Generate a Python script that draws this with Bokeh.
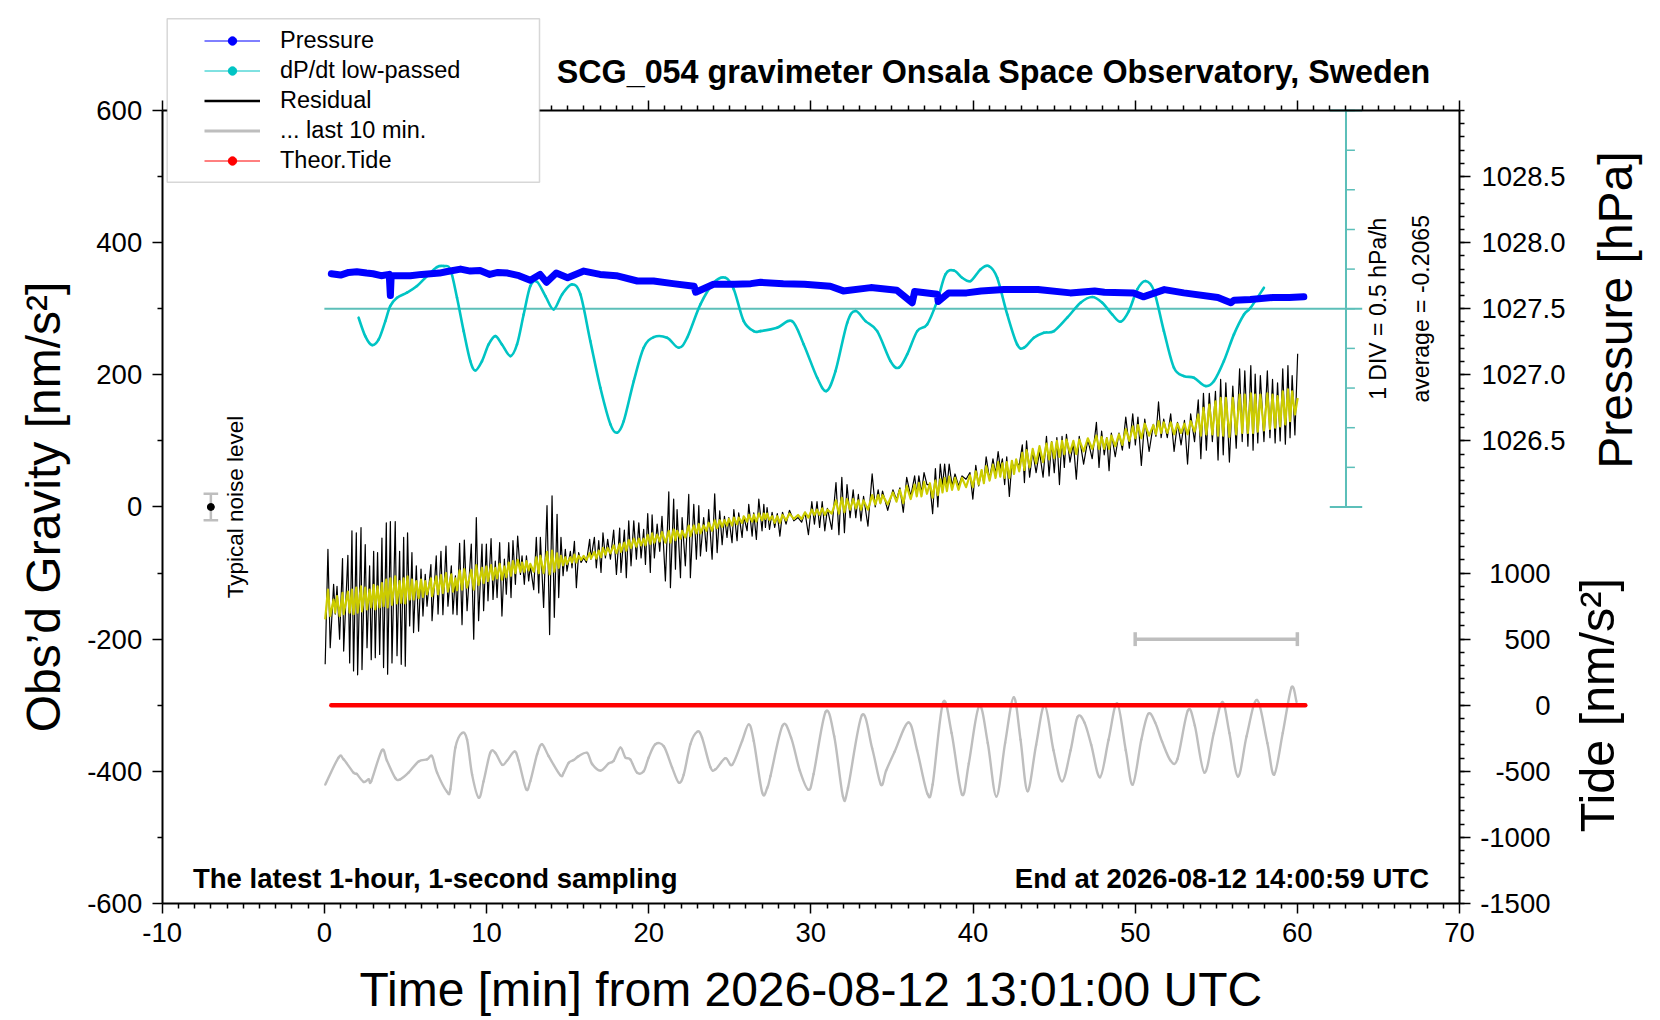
import math
from bokeh.plotting import figure
from bokeh.models import (Range1d, LinearAxis, FixedTicker, Label, LabelSet, ColumnDataSource,
                          BoxAnnotation, Legend, LegendItem, CustomJSTickFormatter)
from bokeh.embed import file_html
from bokeh.resources import INLINE
from bokeh.core.properties import value

FONT = "Liberation Sans"

# ---------------- data ----------------
time_ticks = [-10, 0, 10, 20, 30, 40, 50, 60, 70]
grav_ticks = [-600, -400, -200, 0, 200, 400, 600]
pressure_ticks = [1026.5, 1027.0, 1027.5, 1028.0, 1028.5]
tide_ticks = [-1500, -1000, -500, 0, 500, 1000]

# Residual gravity [nm/s^2] (extremes)
res_t = [0.05,0.22,0.36,0.57,0.67,0.78,0.94,1.12,1.19,1.45,
         1.56,1.70,1.80,1.97,2.05,2.26,2.32,2.52,2.63,2.79,
         2.89,3.04,3.14,3.28,3.41,3.55,3.65,3.82,3.90,4.07,
         4.17,4.37,4.48,4.64,4.74,4.89,4.99,5.13,5.26,5.40,
         5.50,5.67,5.81,5.96,6.08,6.22,6.33,6.57,6.64,6.90,
         7.01,7.19,7.31,7.50,7.62,7.83,7.93,8.08,8.18,8.34,
         8.49,8.63,8.80,9.06,9.21,9.37,9.51,9.72,9.82,9.99,
         10.09,10.28,10.40,10.54,10.65,10.81,10.95,11.10,11.22,11.37,
         11.51,11.63,11.78,11.92,12.09,12.19,12.33,12.46,12.60,12.70,
         12.91,13.07,13.22,13.32,13.52,13.73,13.89,14.04,14.18,14.35,
         14.45,14.59,14.72,14.86,14.96,15.17,15.27,15.42,15.54,15.68,
         15.83,15.99,16.16,16.36,16.44,16.65,16.77,16.92,17.06,17.18,
         17.33,17.47,17.64,17.84,18.01,18.21,18.29,18.50,18.62,18.77,
         18.91,19.08,19.24,19.39,19.53,19.69,19.80,19.94,20.10,20.21,
         20.35,20.52,20.68,20.82,21.03,21.24,21.34,21.54,21.65,21.75,
         21.96,22.06,22.26,22.47,22.57,22.78,22.94,23.09,23.19,23.39,
         23.56,23.70,23.91,24.07,24.22,24.38,24.53,24.67,24.83,24.94,
         25.14,25.25,25.45,25.55,25.76,25.86,26.07,26.17,26.38,26.48,
         26.64,26.79,26.99,27.10,27.20,27.30,27.45,
         27.61,27.77,27.93,28.09,28.25,28.47,28.68,28.95,29.21,29.43,
         29.64,29.85,30.06,30.22,30.38,30.54,30.70,30.86,31.02,31.29,
         31.55,31.73,31.91,32.07,32.23,32.42,32.61,32.77,32.93,33.09,
         33.25,33.52,33.78,33.97,34.15,34.29,34.42,34.74,35.06,35.28,
         35.49,35.70,35.91,36.16,36.40,36.53,36.66,36.82,36.98,37.16,
         37.34,37.51,37.68,37.83,37.98,38.12,38.25,38.39,38.53,38.71,
         38.89,39.11,39.32,39.57,39.81,39.99,40.17,40.35,40.53,40.67,
         40.81,41.02,41.23,41.39,41.55,41.68,41.81,41.95,42.08,42.24,
         42.40,42.53,42.66,42.85,43.04,43.17,43.30,43.49,43.68,43.89,
         44.10,44.32,44.53,44.69,44.85,45.01,45.17,45.33,45.49,45.63,
         45.76,45.98,46.19,46.37,46.55,46.82,47.08,47.35,47.61,47.77,
         47.93,48.09,48.25,48.39,48.53,48.77,49.00,49.21,49.42,49.64,
         49.85,50.01,50.17,50.38,50.59,50.86,51.12,51.28,51.44,51.60,
         51.76,51.98,52.19,52.40,52.61,52.83,53.04,53.23,53.42,53.66,
         53.89,54.05,54.21,54.39,54.57,54.76,54.95,55.11,55.27,55.43,
         55.59,55.81,56.02,56.23,56.44,56.60,56.76,56.95,57.13,57.27,
         57.40,57.56,57.72,57.94,58.15,58.31,58.47,58.63,58.78,58.94,
         59.10,59.26,59.42,59.55,59.68,59.85,60.02]
res_v = [-238,-64,-213,-117,-162,-120,-200,-78,-218,-73,
         -236,-36,-248,-39,-254,-31,-246,-57,-213,-89,
         -231,-67,-228,-69,-223,-47,-243,-24,-253,-22,
         -236,-22,-225,-67,-238,-46,-241,-39,-180,-69,
         -190,-89,-188,-94,-165,-102,-150,-87,-172,-74,
         -162,-67,-163,-59,-150,-89,-162,-104,-163,-55,
         -178,-50,-157,-56,-200,-16,-172,-56,-157,-56,
         -142,-48,-140,-82,-137,-54,-165,-79,-132,-54,
         -137,-51,-117,-44,-102,-74,-117,-74,-112,-89,
         -125,-46,-130,-46,-152,2,-193,17,-167,-11,
         -137,-46,-104,-64,-97,-67,-92,-52,-122,-69,
         -84,-77,-84,-49,-79,-46,-92,-51,-99,-39,
         -77,-49,-79,-35,-102,-32,-99,-35,-107,-21,
         -89,-21,-79,-24,-77,-34,-87,-10,-99,-12,
         -77,-26,-67,-14,-112,23,-122,12,-94,-4,
         -107,-16,-89,19,-107,4,-79,2,-74,-16,
         -67,-4,-79,20,-69,-6,-57,-14,-46,-16,
         -54,-4,-51,-9,-46,-14,-36,4,-44,-9,
         -49,12,-36,4,-31,-1,-34,
         -8,-31,-10,-44,-8,-26,-5,-21,-16,-23,
         -8,-42,8,-26,8,-31,8,-36,-2,-34,
         37,-42,45,-39,34,-16,26,-16,19,-21,
         16,-29,50,0,26,5,24,-5,26,11,
         29,-8,45,16,47,19,47,21,52,34,
         34,-10,58,0,65,32,65,29,65,32,
         50,32,47,42,52,12,63,32,55,37,
         76,42,73,50,84,58,73,34,76,16,
         68,58,68,63,94,37,100,45,84,52,
         84,45,107,47,99,52,105,34,107,60,
         110,68,97,42,107,65,102,73,128,60,
         115,79,105,55,112,76,112,86,136,89,
         141,94,136,63,133,84,125,107,159,105,
         133,105,141,84,128,94,131,65,141,99,
         162,73,172,86,172,99,175,71,193,79,
         188,68,183,89,209,99,206,92,214,86,
         201,97,199,99,206,105,193,97,188,100,
         209,95,214,105,199,109,232]
# Smoothed residual (yellow trace), same time stamps
smooth_v = [-170,-125,-165,-140,-160,-135,-165,-130,-162,-128,
            -160,-125,-162,-122,-160,-120,-158,-122,-155,-125,
            -152,-118,-155,-120,-152,-115,-150,-110,-152,-108,
            -148,-105,-146,-112,-145,-108,-146,-105,-140,-110,
            -140,-112,-138,-110,-136,-112,-132,-108,-135,-105,
            -132,-103,-130,-100,-128,-102,-128,-108,-126,-96,
            -125,-94,-122,-95,-125,-88,-118,-92,-115,-90,
            -112,-88,-110,-92,-108,-86,-110,-90,-106,-84,
            -104,-82,-100,-80,-98,-84,-98,-82,-96,-86,
            -98,-76,-100,-74,-100,-68,-102,-66,-98,-70,
            -92,-74,-88,-76,-86,-76,-84,-72,-84,-74,
            -80,-74,-80,-70,-78,-68,-78,-66,-76,-62,
            -72,-62,-70,-58,-70,-56,-68,-54,-66,-50,
            -62,-48,-60,-48,-58,-48,-58,-42,-56,-40,
            -54,-42,-52,-38,-54,-36,-54,-34,-50,-36,
            -48,-36,-46,-28,-44,-28,-40,-26,-40,-28,
            -36,-24,-36,-20,-32,-20,-30,-20,-28,-18,
            -28,-16,-26,-16,-24,-14,-22,-12,-22,-12,
            -22,-10,-20,-10,-18,-10,-20,
            -14,-24,-14,-24,-12,-20,-10,-18,-12,-18,
            -8,-16,-4,-12,-4,-12,-2,-12,-4,-10,
            10,-10,14,-8,12,-4,12,-2,10,-4,
            10,-4,18,4,18,6,18,4,22,8,
            26,6,32,12,34,16,36,16,38,20,
            36,14,40,18,42,22,44,24,46,26,
            44,26,44,30,48,30,54,34,56,36,
            62,40,64,44,68,46,66,44,68,44,
            70,50,72,54,82,56,86,60,88,66,
            92,68,96,72,98,74,100,76,100,80,
            102,82,100,80,102,84,104,88,108,88,
            106,88,104,88,108,92,110,94,118,100,
            122,104,124,104,126,108,124,110,130,112,
            128,112,128,110,126,112,126,110,130,114,
            140,108,150,110,155,110,160,108,165,108,
            165,106,165,110,170,112,170,112,172,112,
            170,114,170,116,172,118,170,120,168,122,
            175,125,178,130,175,140,165]

# "... last 10 min." trace as drawn [nm/s^2]
last10_t = [0.06,0.88,1.19,1.80,2.00,2.42,2.73,2.89,3.55,3.86,
            4.37,4.68,5.19,5.81,6.33,6.64,6.95,7.56,7.77,8.08,
            8.49,8.80,9.11,9.52,9.82,10.23,10.54,10.96,11.26,11.73,
            11.98,12.44,12.70,13.12,13.42,13.83,14.55,14.76,15.07,15.37,
            15.68,16.20,16.51,17.02,17.53,17.84,18.25,18.56,18.87,19.28,
            19.69,20.00,20.41,20.93,21.44,21.85,22.16,22.57,22.99,23.29,
            23.81,24.12,24.73,25.15,25.76,26.17,26.48,27.00,27.31,
            27.51,28.25,28.78,29.32,29.85,30.17,30.91,31.44,31.98,32.29,
            33.15,33.78,34.32,34.64,35.17,36.02,36.55,37.19,37.51,38.15,
            38.68,39.32,39.74,40.38,40.91,41.44,41.98,42.51,42.93,43.36,
            43.89,44.42,44.96,45.49,46.02,46.44,46.87,47.29,47.83,48.36,
            48.89,49.42,49.85,50.38,50.81,51.23,51.66,52.19,52.61,53.25,
            53.68,54.27,54.85,55.38,55.81,56.34,56.87,57.51,58.15,58.57,
            59.10,59.64,59.95]
last10_v = [-420,-379,-382,-402,-404,-416,-412,-415,-368,-384,
            -410,-412,-402,-385,-382,-377,-402,-431,-427,-364,
            -342,-352,-405,-440,-415,-372,-372,-390,-384,-370,
            -384,-427,-415,-374,-359,-377,-406,-402,-387,-383,
            -377,-372,-389,-399,-388,-384,-364,-379,-382,-402,
            -400,-379,-359,-362,-394,-417,-405,-359,-340,-349,
            -394,-397,-380,-390,-354,-329,-354,-432,-425,
            -407,-331,-349,-399,-428,-404,-310,-347,-438,-425,
            -315,-365,-420,-399,-370,-326,-368,-434,-420,-296,
            -342,-435,-388,-301,-357,-438,-357,-288,-352,-430,
            -360,-300,-368,-415,-368,-318,-326,-360,-409,-352,
            -297,-368,-420,-352,-313,-326,-355,-384,-381,-308,
            -331,-402,-342,-295,-342,-408,-347,-292,-357,-405,
            -342,-273,-295]

# Air pressure [hPa]
pres_t = [0.43,1.0,1.5,2.0,2.6,3.0,3.5,4.0,4.07,4.12,
          4.5,5.3,6.0,7.1,7.5,8.4,9.0,9.6,10.2,10.7,
          11.3,12.0,12.7,13.3,13.7,14.3,15.0,16.0,17.0,18.0,
          19.3,20.3,21.5,22.8,22.9,24.0,25.3,26.3,26.9,28.3,
          29.6,31.2,32.0,33.7,35.3,36.25,36.4,37.8,37.85,38.5,
          39.6,40.5,41.9,44.0,46.0,47.5,48.1,49.9,50.5,51.8,
          53.0,55.1,55.9,56.1,57.1,58.5,59.5,60.4]
pres_v = [1027.765,1027.755,1027.775,1027.78,1027.77,1027.765,1027.75,1027.76,1027.60,1027.75,
          1027.75,1027.75,1027.76,1027.77,1027.78,1027.80,1027.785,1027.79,1027.76,1027.775,
          1027.77,1027.75,1027.715,1027.76,1027.70,1027.77,1027.735,1027.785,1027.76,1027.75,
          1027.71,1027.71,1027.69,1027.67,1027.625,1027.685,1027.685,1027.69,1027.70,1027.69,
          1027.685,1027.67,1027.635,1027.66,1027.64,1027.545,1027.63,1027.61,1027.555,1027.62,
          1027.62,1027.635,1027.645,1027.645,1027.62,1027.635,1027.625,1027.62,1027.59,1027.645,
          1027.62,1027.585,1027.545,1027.565,1027.57,1027.585,1027.585,1027.59]

# dP/dt low-passed [hPa/h]
dpdt_t = [2.11,2.52,2.93,3.35,3.76,4.06,4.48,5.09,5.71,6.33,
          6.94,7.36,7.77,8.18,8.59,9.00,9.31,9.72,10.13,10.54,
          10.95,11.47,11.88,12.29,12.70,13.11,13.63,14.14,14.66,15.27,
          15.79,16.40,17.02,17.64,18.05,18.46,19.08,19.69,20.31,21.13,
          21.85,22.37,23.19,24.01,24.73,25.25,25.86,26.48,26.89,27.92,
          28.84,29.56,30.39,30.96,31.52,32.24,32.75,33.37,34.09,34.91,
          35.42,35.94,36.56,37.17,37.79,38.30,38.82,39.33,39.85,40.46,
          40.98,41.49,42.11,42.72,43.14,43.75,44.37,44.99,45.81,46.63,
          47.35,47.97,48.58,49.10,49.61,50.13,50.64,51.16,51.77,52.39,
          53.01,53.62,54.34,54.86,55.47,56.09,56.71,57.12,57.94]
dpdt_v = [-0.113,-0.345,-0.458,-0.387,-0.156,0.033,0.138,0.202,0.286,0.412,
          0.525,0.538,0.496,0.138,-0.282,-0.660,-0.778,-0.660,-0.450,-0.345,
          -0.450,-0.597,-0.450,-0.072,0.286,0.340,0.160,-0.008,0.181,0.307,
          0.181,-0.408,-0.996,-1.458,-1.563,-1.417,-0.912,-0.492,-0.358,-0.366,
          -0.492,-0.366,0.055,0.328,0.391,0.244,-0.156,-0.282,-0.282,-0.239,
          -0.156,-0.450,-0.870,-1.038,-0.786,-0.177,-0.029,-0.156,-0.282,-0.660,
          -0.744,-0.576,-0.282,-0.198,0.097,0.433,0.483,0.391,0.349,0.496,
          0.538,0.391,-0.072,-0.450,-0.492,-0.366,-0.303,-0.282,-0.113,0.076,
          0.148,0.076,-0.072,-0.164,-0.029,0.244,0.349,0.223,-0.282,-0.744,
          -0.849,-0.870,-0.975,-0.912,-0.660,-0.323,-0.072,0.013,0.265]
dpdt_div = 0.5                      # hPa/h per division
dpdt_div_ticks = [-2.5, -2.0, -1.5, -1.0, -0.5, 0.0, 0.5, 1.0, 1.5, 2.0, 2.5]

# Theoretical tide [nm/s^2]
tide_t = [0.43, 60.49]
tide_v = [0, 0]

# typical noise level marker and last-10-min span
noise_x = -7
noise_level = 20
last10_span = [50, 60]
last10_level = -200

# ---------------- figure ----------------
# The frame fills the whole canvas; axes are pinned at the plot box edges.
X0, X1 = -10, 70
Y0, Y1 = -600, 600
XL, XR = -19.972, 82.148          # canvas edges in minutes
YB, YT = -771.0, 766.46           # canvas edges in nm/s^2
p = figure(width=1656, height=1016, min_border=0,
           x_range=Range1d(XL, XR), y_range=Range1d(YB, YT),
           x_axis_location=None, y_axis_location=None,
           output_backend="svg", toolbar_location=None, tools="")
p.grid.visible = False
p.outline_line_color = None
p.background_fill_color = "white"
p.border_fill_color = "white"
p.extra_y_ranges = {"pressure": Range1d(1026.0 + YB / 200.0, 1026.0 + YT / 200.0),
                    "tide": Range1d((YB + 300.0) * 5.0, (YT + 300.0) * 5.0),
                    "dpdt": Range1d((YB - 300.0) / 120.0, (YT - 300.0) / 120.0)}

def style_axis(ax, major_len, minor_len):
    ax.axis_line_color = "black"
    ax.axis_line_width = 2
    ax.major_tick_line_color = "black"
    ax.major_tick_line_width = 1.5
    ax.minor_tick_line_color = "black"
    ax.minor_tick_line_width = 1.5
    ax.major_tick_out = major_len
    ax.major_tick_in = 0
    ax.minor_tick_out = minor_len
    ax.minor_tick_in = 0
    ax.major_label_text_font = FONT
    ax.major_label_text_font_size = "27.5px"
    ax.major_label_text_color = "black"
    ax.major_label_standoff = 10

time_minor = [m for m in range(X0, X1 + 1) if m % 10 != 0]
xb = LinearAxis(ticker=FixedTicker(ticks=time_ticks, minor_ticks=time_minor),
                fixed_location=Y0, bounds=(X0, X1))
style_axis(xb, 10, 5)
xb.major_label_overrides = {t: str(t) for t in time_ticks}
p.add_layout(xb, "below")

xt = LinearAxis(ticker=FixedTicker(ticks=time_ticks, minor_ticks=time_minor),
                formatter=CustomJSTickFormatter(code="return ''"),
                fixed_location=Y1, bounds=(X0, X1))
style_axis(xt, 10, 5)
xt.major_label_text_color = None
p.add_layout(xt, "above")

yl = LinearAxis(ticker=FixedTicker(ticks=grav_ticks, minor_ticks=[-500, -300, -100, 100, 300, 500]),
                fixed_location=X0, bounds=(Y0, Y1))
style_axis(yl, 10, 5)
yl.major_label_overrides = {t: str(t) for t in grav_ticks}
p.add_layout(yl, "left")

press_pos = [(v - 1026.0) * 200.0 for v in pressure_ticks]
tide_pos = [v / 5.0 - 300.0 for v in tide_ticks]
right_minor = [m for m in range(Y0, Y1 + 1, 20)]
yr = LinearAxis(ticker=FixedTicker(ticks=tide_pos + press_pos, minor_ticks=right_minor),
                formatter=CustomJSTickFormatter(code="return ''"),
                fixed_location=X1, bounds=(Y0, Y1))
style_axis(yr, 11, 5)
yr.major_label_text_color = None
p.add_layout(yr, "right")

# right-hand tick labels (right-aligned groups)
press_src = ColumnDataSource(dict(y=pressure_ticks, text=["%.1f" % v for v in pressure_ticks]))
p.add_layout(LabelSet(x=76.54, y="y", text="text", source=press_src, y_range_name="pressure",
                      text_align="right", text_baseline="middle", text_font=value(FONT),
                      text_font_size="27.5px", text_color="black"))
tide_src = ColumnDataSource(dict(y=tide_ticks, text=[str(v) for v in tide_ticks]))
p.add_layout(LabelSet(x=75.61, y="y", text="text", source=tide_src, y_range_name="tide",
                      text_align="right", text_baseline="middle", text_font=value(FONT),
                      text_font_size="27.5px", text_color="black"))

# ---------------- data glyphs ----------------
GREY = "#bebebe"
CYAN = "#00c4c4"
TEAL = "#5cbfb9"

def smooth_curve(xs, ys, **kw):
    """Draw a smooth curve through the read points (Catmull-Rom as cubic Beziers)."""
    n = len(xs)
    x0, y0, x1, y1, cx0, cy0, cx1, cy1 = [], [], [], [], [], [], [], []
    for i in range(n - 1):
        a = max(i - 1, 0)
        d = min(i + 2, n - 1)
        x0.append(xs[i]); y0.append(ys[i]); x1.append(xs[i + 1]); y1.append(ys[i + 1])
        cx0.append(xs[i] + (xs[i + 1] - xs[a]) / 6.0)
        cy0.append(ys[i] + (ys[i + 1] - ys[a]) / 6.0)
        cx1.append(xs[i + 1] - (xs[d] - xs[i]) / 6.0)
        cy1.append(ys[i + 1] - (ys[d] - ys[i]) / 6.0)
    return p.bezier(x0=x0, y0=y0, x1=x1, y1=y1, cx0=cx0, cy0=cy0, cx1=cx1, cy1=cy1,
                    line_cap="round", **kw)

smooth_curve(last10_t, last10_v, line_color=GREY, line_width=2.4)
p.line(tide_t, tide_v, y_range_name="tide", line_color="#ff0000", line_width=4.5, line_cap="round")
p.line(res_t, res_v, line_color="black", line_width=1.2, line_join="round")
p.line(res_t, smooth_v, line_color="#cccc00", line_width=2.2, line_join="round")

# dP/dt scale bar
p.segment(x0=0, y0=0, x1=64, y1=0, y_range_name="dpdt", line_color=TEAL, line_width=2)
p.segment(x0=63, y0=dpdt_div_ticks[0], x1=63, y1=dpdt_div_ticks[-1], y_range_name="dpdt",
          line_color=TEAL, line_width=2)
p.segment(x0=63, x1=63.55, y0=dpdt_div_ticks, y1=dpdt_div_ticks, y_range_name="dpdt",
          line_color=TEAL, line_width=1.5)
p.segment(x0=62, x1=64, y0=[dpdt_div_ticks[0], dpdt_div_ticks[-1]],
          y1=[dpdt_div_ticks[0], dpdt_div_ticks[-1]], y_range_name="dpdt",
          line_color=TEAL, line_width=2)
smooth_curve(dpdt_t, dpdt_v, y_range_name="dpdt", line_color=CYAN, line_width=2.6)

p.line(pres_t, pres_v, y_range_name="pressure", line_color="#0000ff", line_width=7,
       line_join="round", line_cap="round")

# noise level marker
p.segment(x0=noise_x, x1=noise_x, y0=-noise_level, y1=noise_level, line_color=GREY, line_width=2.5)
p.segment(x0=noise_x - 0.45, x1=noise_x + 0.45, y0=[-noise_level, noise_level],
          y1=[-noise_level, noise_level], line_color=GREY, line_width=2.5)
p.scatter([noise_x], [0], marker="circle", size=7, color="black")

# last-10-min span bar
p.segment(x0=last10_span[0], x1=last10_span[1], y0=last10_level, y1=last10_level,
          line_color=GREY, line_width=3.5)
p.segment(x0=last10_span, x1=last10_span, y0=last10_level - 10.5, y1=last10_level + 10.5,
          line_color=GREY, line_width=3.5)

# ---------------- texts ----------------
def add_label(**kw):
    kw.setdefault("text_font", FONT)
    kw.setdefault("text_color", "black")
    kw.setdefault("text_baseline", "middle")
    p.add_layout(Label(**kw))

add_label(x=68.2, y=658.4, text="SCG_054 gravimeter Onsala Space Observatory, Sweden",
          text_align="right", text_font_style="bold", text_font_size="32.3px")
add_label(x=-8.1, y=-562.6, text="The latest 1-hour, 1-second sampling",
          text_align="left", text_font_style="bold", text_font_size="27.5px")
add_label(x=68.12, y=-562.6, text="End at 2026-08-12 14:00:59 UTC",
          text_align="right", text_font_style="bold", text_font_size="27.5px")
add_label(x=30, y=-730.1, text="Time [min] from 2026-08-12 13:01:00 UTC",
          text_align="center", text_font_size="48px")
add_label(x=-17.3, y=0, angle=math.pi / 2, text="Obs\u2019d Gravity [nm/s\u00b2]",
          text_align="center", text_font_size="48px")
add_label(x=79.59, y=298, angle=math.pi / 2, text="Pressure [hPa]",
          text_align="center", text_font_size="48px")
add_label(x=78.49, y=-300, angle=math.pi / 2, text="Tide [nm/s\u00b2]",
          text_align="center", text_font_size="48.5px")
add_label(x=-5.51, y=0, angle=math.pi / 2, text="Typical noise level",
          text_align="center", text_font_size="22.5px")
add_label(x=65.0, y=300, angle=math.pi / 2, text="1 DIV = %.1f hPa/h" % dpdt_div,
          text_align="center", text_font_size="23px")
add_label(x=67.6, y=300, angle=math.pi / 2, text="average = -0.2065",
          text_align="center", text_font_size="23px")

# ---------------- legend ----------------
NAN = [math.nan]
lg_p_line = p.line(NAN, NAN, line_color="#0000ff", line_width=1)
lg_p_dot = p.scatter(NAN, NAN, marker="circle", size=8, color="#0000ff")
lg_d_line = p.line(NAN, NAN, line_color=CYAN, line_width=1)
lg_d_dot = p.scatter(NAN, NAN, marker="circle", size=8, color=CYAN)
lg_r_line = p.line(NAN, NAN, line_color="black", line_width=2.5)
lg_g_line = p.line(NAN, NAN, line_color=GREY, line_width=3)
lg_t_line = p.line(NAN, NAN, line_color="#ff0000", line_width=1)
lg_t_dot = p.scatter(NAN, NAN, marker="circle", size=8, color="#ff0000")

box = BoxAnnotation(left=-9.692, right=13.267, top=738.8, bottom=491.5,
                    fill_color="white", fill_alpha=1.0, line_color="#7a7a7a", line_width=1.5,
                    level="annotation")
p.add_layout(box)

legend = Legend(items=[LegendItem(label="Pressure", renderers=[lg_p_line, lg_p_dot]),
                       LegendItem(label="dP/dt low-passed", renderers=[lg_d_line, lg_d_dot]),
                       LegendItem(label="Residual", renderers=[lg_r_line]),
                       LegendItem(label="... last 10 min.", renderers=[lg_g_line]),
                       LegendItem(label="Theor.Tide", renderers=[lg_t_line, lg_t_dot])],
                location=(204, 841), orientation="vertical",
                border_line_color=None, background_fill_alpha=0.0,
                padding=0, margin=0, spacing=0,
                glyph_width=56, glyph_height=21, label_height=30, label_standoff=20,
                label_text_font=FONT, label_text_font_size="23.5px", label_text_color="black",
                level="overlay")
p.add_layout(legend)

open("out.html", "w").write(file_html(p, INLINE))
